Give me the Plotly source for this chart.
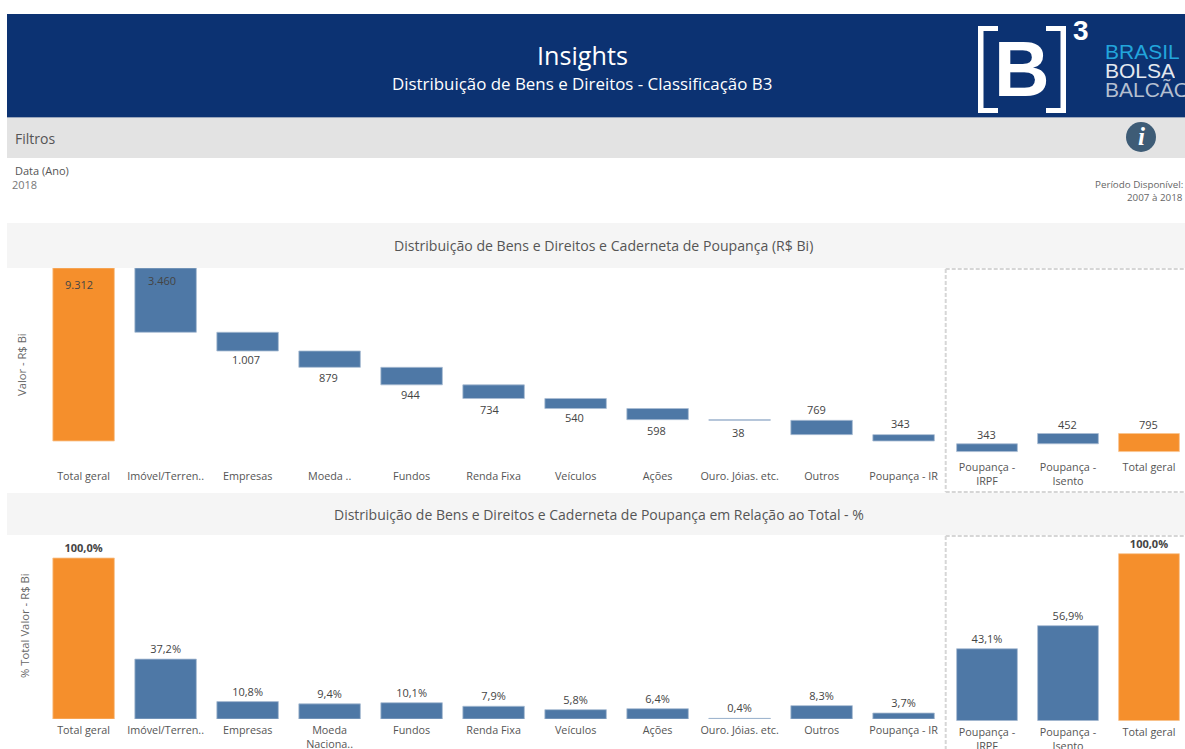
import plotly.graph_objects as go

W, H = 1185, 749
FONT = "Open Sans"
BLUE, ORANGE = "#4E78A6", "#F58F2C"
TXT = "#555555"

# ---- data ----
wf_categories = ["Total geral", "Imóvel/Terren..", "Empresas", "Moeda ..", "Fundos", "Renda Fixa",
                 "Veículos", "Ações", "Ouro. Jóias. etc.", "Outros", "Poupança - IR"]
wf_values = [9312, 3460, 1007, 879, 944, 734, 540, 598, 38, 769, 343]
wf_labels = ["9.312", "3.460", "1.007", "879", "944", "734", "540", "598", "38", "769", "343"]

sav_categories = ["Poupança -<br>IRPF", "Poupança -<br>Isento", "Total geral"]
sav_values = [343, 452, 795]

pct_categories = ["Total geral", "Imóvel/Terren..", "Empresas", "Moeda<br>Naciona..", "Fundos", "Renda Fixa",
                  "Veículos", "Ações", "Ouro. Jóias. etc.", "Outros", "Poupança - IR"]
pct_values = [100.0, 37.2, 10.8, 9.4, 10.1, 7.9, 5.8, 6.4, 0.4, 8.3, 3.7]

sav_pct_values = [43.1, 56.9, 100.0]


def br(v):
    return f"{v:.1f}".replace(".", ",") + "%"


def px(x):
    return x / W


def py(y):
    return 1 - y / H


def rect(x0, y0, x1, y1, color):
    return dict(type="rect", xref="paper", yref="paper", x0=px(x0), x1=px(x1), y0=py(y0), y1=py(y1),
                fillcolor=color, line_width=0, layer="below")


def seg(x0, y0, x1, y1, color="#D6D6D6", width=2, dash="4px,2px"):
    return dict(type="line", xref="paper", yref="paper", x0=px(x0), x1=px(x1), y0=py(y0), y1=py(y1),
                line=dict(color=color, width=width, dash=dash), layer="below")


def label(x, y, text, size=11, color=TXT, anchor="center", family=FONT, angle=0, height=None):
    pad = {"left": -2, "right": 2, "center": 0}[anchor]
    d = dict(xref="paper", yref="paper", x=px(x + pad), y=py(y), text=text, showarrow=False, xanchor=anchor,
             yanchor="middle", textangle=angle, font=dict(size=size, color=color, family=family))
    if height:
        d["height"] = height
    return d


def colors(cats):
    return [ORANGE if c == "Total geral" else BLUE for c in cats]


edge_blue = "#A9BDD3"
def edges(cats):
    return [("#F9C48F" if c == "Total geral" else edge_blue) for c in cats]


# waterfall bases come from the values themselves
wf_base = [0]
running = wf_values[0]
for v in wf_values[1:]:
    running -= v
    wf_base.append(running)

sav_base = [0, sav_values[0], 0]

VALUE_FONT = dict(size=11, color="#444444", family=FONT)
BAR_W = 0.75

fig = go.Figure()
fig.add_bar(x=wf_categories, y=wf_values, base=wf_base, width=BAR_W, marker=dict(color=colors(wf_categories), line=dict(color=edges(wf_categories), width=0.8)),
            xaxis="x", yaxis="y", showlegend=False)
fig.add_bar(x=sav_categories, y=sav_values, base=sav_base, width=BAR_W, marker=dict(color=colors(sav_categories), line=dict(color=edges(sav_categories), width=0.8)),
            xaxis="x2", yaxis="y2", showlegend=False)
fig.add_bar(x=pct_categories, y=pct_values, width=BAR_W, marker=dict(color=colors(pct_categories), line=dict(color=edges(pct_categories), width=0.8)),
            text=[f"<b>{br(v)}</b>" if v == 100 else br(v) for v in pct_values], textposition="outside",
            textangle=0, constraintext="none", cliponaxis=False, textfont=VALUE_FONT,
            xaxis="x3", yaxis="y3", showlegend=False)
fig.add_bar(x=sav_categories, y=sav_pct_values, width=BAR_W, marker=dict(color=colors(sav_categories), line=dict(color=edges(sav_categories), width=0.8)),
            text=[f"<b>{br(v)}</b>" if v == 100 else br(v) for v in sav_pct_values], textposition="outside",
            textangle=0, constraintext="none", cliponaxis=False, textfont=VALUE_FONT,
            xaxis="x4", yaxis="y4", showlegend=False)

# pixel geometry of each panel
L_X0, L_X1 = 42.6, 944.6
R_X0, R_X1 = 946.5, 1185
R_BAND = 81.0
tick = dict(showgrid=False, zeroline=False, showline=False, tickfont=dict(size=10.8, color=TXT, family=FONT),
            tickangle=0, type="category", automargin=False)
tick_lo = dict(ticks="outside", ticklen=1, tickcolor="rgba(0,0,0,0)", tickwidth=0)
hid = dict(showgrid=False, zeroline=False, showline=False, showticklabels=False, ticks="", fixedrange=True)

TOP_T, TL_B, TR_B = 268, 468, 459
BOT_T, BL_B, BR_B = 535, 719, 720.7
tl_scale = 173 / 9312
tr_scale = 18.1 / 795
bl_scale = 161 / 100
br_scale = 167 / 100
tl_zero, tr_zero = 441, 451.6


def yrange(top, bottom, zero, scale):
    return [-(bottom - zero) / scale, (zero - top) / scale]


fig.update_layout(
    width=W, height=H, margin=dict(l=0, r=0, t=0, b=0), paper_bgcolor="white", plot_bgcolor="rgba(0,0,0,0)",
    barmode="overlay", font=dict(family=FONT, color=TXT),
    xaxis=dict(domain=[px(L_X0), px(L_X1)], anchor="y", range=[-0.5, 10.5], ticks="", **tick),
    yaxis=dict(domain=[py(TL_B), py(TOP_T)], anchor="x", range=yrange(TOP_T, TL_B, tl_zero, tl_scale), **hid),
    xaxis2=dict(domain=[px(R_X0), px(R_X1)], anchor="y2", range=[-0.5, (R_X1 - R_X0) / R_BAND - 0.5], ticks="", **tick),
    yaxis2=dict(domain=[py(TR_B), py(TOP_T)], anchor="x2", range=yrange(TOP_T, TR_B, tr_zero, tr_scale), **hid),
    xaxis3=dict(domain=[px(L_X0), px(L_X1)], anchor="y3", range=[-0.5, 10.5], **tick, **tick_lo),
    yaxis3=dict(domain=[py(BL_B), py(BOT_T)], anchor="x3", range=yrange(BOT_T, BL_B, BL_B, bl_scale), **hid),
    xaxis4=dict(domain=[px(R_X0), px(R_X1)], anchor="y4", range=[-0.5, (R_X1 - R_X0) / R_BAND - 0.5], **tick, **tick_lo),
    yaxis4=dict(domain=[py(BR_B), py(BOT_T)], anchor="x4", range=yrange(BOT_T, BR_B, BR_B, br_scale), **hid),
)

shapes = [
    rect(7, 14, W, 117, "#0C3272"),
    rect(7, 117, W, 118, "#9AA6BC"),
    rect(7, 118, W, 158, "#E3E3E3"),
    rect(7, 223, W, 268, "#F5F5F5"),
    rect(7, 493, W, 535, "#F5F5F5"),
    seg(945.7, 269, W, 269), seg(945.7, 269, 945.7, 492), seg(945.7, 492, W, 492),
    seg(945.7, 536, W, 536), seg(945.7, 536, 945.7, H),
    # logo brackets
    rect(978, 26, 983.5, 113, "white"), rect(978, 26, 998, 31, "white"), rect(978, 108, 998, 113, "white"),
    rect(1060.5, 26, 1066, 113, "white"), rect(1046, 26, 1066, 31, "white"), rect(1046, 108, 1066, 113, "white"),
    dict(type="circle", xref="paper", yref="paper", x0=px(1126), x1=px(1156), y0=py(152), y1=py(122),
         fillcolor="#3E5C76", line_width=0, layer="below"),
]

annotations = [
    label(582, 55, "Insights", 25.2, "white"),
    label(582, 83, "Distribuição de Bens e Direitos - Classificação B3", 16.9, "white"),
    label(1022, 69, "<b>B</b>", 77, "white", family="Liberation Sans"),
    label(1081, 30, "<b>3</b>", 28, "white", family="Liberation Sans"),
    label(1105, 50.5, "BRASIL", 21, "#22A5DC", anchor="left", family="Liberation Sans", height=18),
    label(1105, 69.5, "BOLSA", 21, "#E4E8EF", anchor="left", family="Liberation Sans", height=18),
    label(1105, 89, "BALCÃO", 21, "#B4BFD0", anchor="left", family="Liberation Sans", height=20),
    label(1141, 137, "<b><i>i</i></b>", 25, "white", family="Liberation Serif"),
    label(15, 138, "Filtros", 14, "#555555", anchor="left"),
    label(15, 170, "Data (Ano)", 11, "#555555", anchor="left"),
    label(12, 185, "2018", 11, "#777777", anchor="left"),
    label(1183, 184, "Período Disponível:", 9.8, "#666666", anchor="right"),
    label(1183, 197, "2007 à 2018", 9.8, "#666666", anchor="right"),
    label(603, 246, "Distribuição de Bens e Direitos e Caderneta de Poupança (R$ Bi)", 14.1, "#555555"),
    label(599, 514, "Distribuição de Bens e Direitos e Caderneta de Poupança em Relação ao Total - %", 14, "#555555"),
    label(21, 365, "Valor - R$ Bi", 11.2, "#666666", angle=-90),
    label(24, 626, "% Total Valor - R$ Bi", 11.3, "#666666", angle=-90),
]

# waterfall value labels, anchored on the bars through the data scales
wf_shift_y = [-16, -12.6, -8.3, -10.4, -10, -11, -9, -11, -11.7, 11, 11]
wf_shift_x = [-5, -4, -2, -1, -1, -4, -1, -1, -1, -5, -3]
for i, (cat, val, b, txt) in enumerate(zip(wf_categories, wf_values, wf_base, wf_labels)):
    above = wf_shift_y[i] > 0
    inside = i < 2
    yval = b + val if (above or inside) else b
    annotations.append(dict(xref="x", yref="y", x=cat, y=yval, text=txt, showarrow=False, yanchor="middle",
                            yshift=wf_shift_y[i], xshift=wf_shift_x[i], font=VALUE_FONT))
for cat, val, b, txt in zip(sav_categories, sav_values, sav_base, [str(v) for v in sav_values]):
    annotations.append(dict(xref="x2", yref="y2", x=cat, y=b + val, text=txt, showarrow=False, yanchor="middle",
                            yshift=9.5, xshift=-1, font=VALUE_FONT))

fig.update_layout(shapes=shapes, annotations=annotations)
fig.write_html("out.html", config={"displayModeBar": False},
               post_script="document.body.style.margin='0';document.documentElement.style.overflow='hidden';")
